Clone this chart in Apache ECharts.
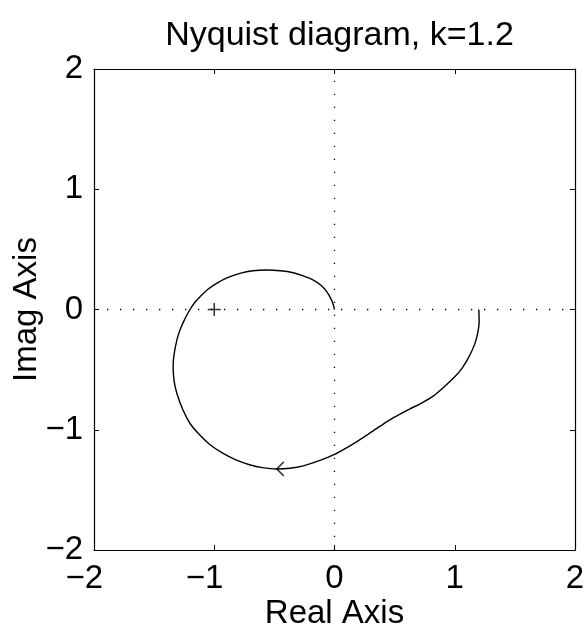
<!DOCTYPE html>
<html>
<head>
<meta charset="utf-8">
<title>Nyquist diagram</title>
<script src="https://cdn.jsdelivr.net/npm/echarts@6/dist/echarts.min.js"></script>
<style>
  html, body { margin: 0; padding: 0; background: #ffffff; }
  #chart { width: 586px; height: 634px; }
</style>
</head>
<body>
<div id="chart"></div>
<script>
// Nyquist locus of the open loop, k = 1.2: from G(0) = 1.2 round to the origin
var nyquistRe = [
  1.20, 1.203, 1.19, 1.165, 1.12, 1.06, 1.00, 0.91, 0.82, 0.72,
  0.62, 0.49, 0.38, 0.29, 0.20, 0.10, 0.00, -0.12, -0.26, -0.37,
  -0.48, -0.60, -0.70, -0.82, -0.93, -1.04, -1.12, -1.20, -1.26, -1.31,
  -1.333, -1.342, -1.335, -1.31, -1.285, -1.245, -1.202, -1.16, -1.118, -1.05,
  -0.98, -0.89, -0.786, -0.68, -0.564, -0.45, -0.343, -0.26, -0.176, -0.11,
  -0.065, -0.03, -0.01, 0.00
];
var nyquistIm = [
  0.00, -0.10, -0.20, -0.29, -0.39, -0.49, -0.56, -0.645, -0.72, -0.78,
  -0.83, -0.90, -0.97, -1.03, -1.09, -1.15, -1.205, -1.255, -1.300, -1.320,
  -1.326, -1.315, -1.293, -1.25, -1.195, -1.12, -1.044, -0.95, -0.836, -0.70,
  -0.60, -0.48, -0.38, -0.25, -0.17, -0.08, 0.00, 0.06, 0.106, 0.17,
  0.218, 0.265, 0.301, 0.322, 0.328, 0.322, 0.306, 0.28, 0.245, 0.20,
  0.148, 0.09, 0.04, 0.00
];

// direction arrow on the locus and the critical point -1 + 0j
var arrowPoint = [-0.48, -1.326];
var criticalPoint = [-1, 0];

// axis range and tick step (both axes)
var axisRange = [-2, 2];
var tickStep = 1;

var titleText = 'Nyquist diagram, k=1.2';
var xAxisName = 'Real Axis';
var yAxisName = 'Imag Axis';

var FONT = "'Liberation Sans', Arial, Helvetica, sans-serif";
var FS = 33;

var locus = nyquistRe.map(function (re, i) { return [re, nyquistIm[i]]; });

function tickLabel(v) {
  return v < 0 ? '\u2212' + Math.abs(v) : String(v);
}

// bottom labels: the digit sits on the tick and the minus sign hangs to its left,
// so a hidden minus is added on the right to balance the centring
function xTickLabel(v) {
  return v < 0 ? '\u2212' + Math.abs(v) + '{pad|\u2212}' : String(v);
}

function makeAxis(pos, showLabels, nameText, extra) {
  var a = {
    type: 'value',
    position: pos,
    min: axisRange[0],
    max: axisRange[1],
    interval: tickStep,
    splitLine: { show: false },
    axisLine: { show: true, onZero: false, lineStyle: { color: '#000', width: 1.2 } },
    axisTick: { show: true, inside: true, length: 5, lineStyle: { color: '#000', width: 1 } },
    axisLabel: {
      show: showLabels,
      color: '#000',
      fontFamily: FONT,
      fontSize: FS,
      formatter: tickLabel
    }
  };
  if (nameText) {
    a.name = nameText;
    a.nameLocation = 'middle';
    a.nameMoveOverlap = false;
    a.nameTextStyle = { color: '#000', fontFamily: FONT, fontSize: FS };
  }
  for (var k in extra) { a[k] = extra[k]; }
  return a;
}

var chart = echarts.init(document.getElementById('chart'), null, { renderer: 'canvas' });

var dotted = { color: '#000', width: 1.3, type: [1.3, 11.7] };

chart.setOption({
  animation: false,
  backgroundColor: '#ffffff',
  title: {
    text: titleText,
    left: 334.5,
    textAlign: 'center',
    top: 14,
    textStyle: { color: '#000', fontFamily: FONT, fontSize: 34, fontWeight: 'normal' }
  },
  grid: { left: 94, right: 11, top: 69, bottom: 84, containLabel: false, outerBoundsMode: 'none' },
  xAxis: [
    makeAxis('bottom', true, xAxisName, {
      nameGap: 47,
      axisLabel: {
        show: true, color: '#000', fontFamily: FONT, fontSize: FS, margin: 12,
        formatter: xTickLabel,
        rich: { pad: { color: 'rgba(0,0,0,0)', fontFamily: FONT, fontSize: FS } }
      }
    }),
    makeAxis('top', false, null, {})
  ],
  yAxis: [
    makeAxis('left', true, yAxisName, { nameGap: 51, axisLabel: {
      show: true, color: '#000', fontFamily: FONT, fontSize: FS, margin: 11, formatter: tickLabel } }),
    makeAxis('right', false, null, {})
  ],
  series: [
    {
      type: 'line',
      xAxisIndex: 0,
      yAxisIndex: 0,
      data: locus,
      showSymbol: false,
      symbol: 'none',
      smooth: 0.3,
      lineStyle: { color: '#000', width: 1.4 },
      markLine: {
        silent: true,
        symbol: 'none',
        label: { show: false },
        lineStyle: dotted,
        data: [{ xAxis: 0 }, { yAxis: 0 }]
      },
      z: 3
    },
    {
      type: 'scatter',
      xAxisIndex: 0,
      yAxisIndex: 0,
      data: [criticalPoint],
      symbol: 'path://M0,6 L12,6 M6,0 L6,12',
      symbolSize: 13,
      itemStyle: { color: 'none', borderColor: '#000', borderWidth: 1.5 },
      z: 4
    },
    {
      type: 'scatter',
      xAxisIndex: 0,
      yAxisIndex: 0,
      data: [arrowPoint],
      symbol: 'path://M7,0 L0,7 L7,14',
      symbolSize: [7, 14],
      symbolOffset: [3.5, 0],
      itemStyle: { color: 'none', borderColor: '#000', borderWidth: 1.4 },
      z: 4
    }
  ]
});
</script>
</body>
</html>
